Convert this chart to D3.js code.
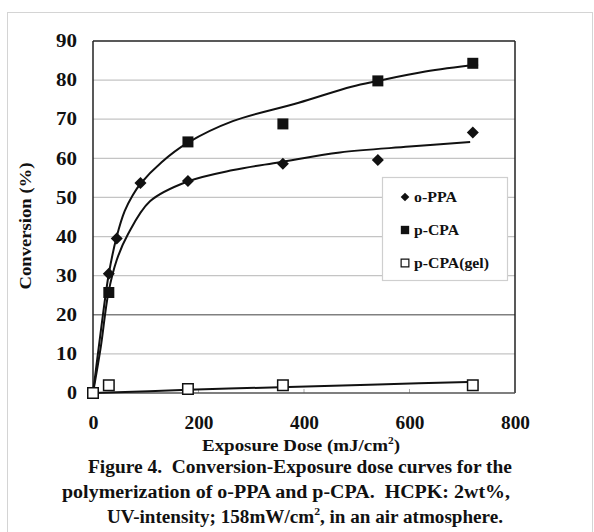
<!DOCTYPE html>
<html>
<head>
<meta charset="utf-8">
<script src="https://cdn.jsdelivr.net/npm/d3@7"></script>
<style>
  body { margin: 0; background: #fff; }
  text { font-family: "Liberation Serif", "Times New Roman", serif; font-weight: bold; fill: #111; white-space: pre; }
</style>
</head>
<body>
<svg id="chart" width="594" height="532"></svg>
<script>
// measured points
const oppaX = [0, 30, 45, 90, 180, 360, 540, 720];
const oppaY = [0, 30.5, 39.5, 53.7, 54.2, 58.6, 59.6, 66.6];
const pcpaX = [0, 30, 180, 360, 540, 720];
const pcpaY = [0, 25.7, 64.2, 68.8, 79.8, 84.3];
const gelX = [0, 30, 180, 360, 720];
const gelY = [0, 2.0, 1.0, 2.0, 2.0];

// trend curves
const upperFitX = [0, 15, 30, 45, 60, 75, 90, 130, 180, 265, 390, 490, 540, 630, 730];
const upperFitY = [0, 16, 30.5, 40, 46.5, 50.5, 53.5, 59, 64, 69.5, 74.2, 78.3, 79.8, 82.2, 84];
const lowerFitX = [0, 15, 29, 45, 66, 108, 178, 266, 354, 468, 600, 715];
const lowerFitY = [0, 12, 25.5, 34, 40.5, 49, 54, 57, 59, 61.5, 63, 64.2];
const gelFitX = [0, 180, 354, 540, 730];
const gelFitY = [0, 0.8, 1.5, 2.2, 2.9];

const xTicks = [0, 200, 400, 600, 800];
const yTicks = [0, 10, 20, 30, 40, 50, 60, 70, 80, 90];
const legendNames = ["o-PPA", "p-CPA", "p-CPA(gel)"];
const caption = [
  "Figure 4.  Conversion-Exposure dose curves for the",
  "polymerization of o-PPA and p-CPA.  HCPK: 2wt%,"
];

const svg = d3.select("#chart");
const L = 93, R = 515, T = 41, B = 393;

const x = d3.scaleLinear().domain([0, 800]).range([L, R]);
const y = d3.scaleLinear().domain([0, 90]).range([B, T]);

// outer frame
svg.append("rect").attr("x", 7.5).attr("y", 12.5).attr("width", 585).attr("height", 540)
  .attr("fill", "none").attr("stroke", "#d4d4d4").attr("stroke-width", 1);

// grid
svg.append("g").selectAll("line").data(yTicks.filter(d => d > 0 && d < 90)).enter().append("line")
  .attr("x1", L).attr("x2", R).attr("y1", d => y(d)).attr("y2", d => y(d))
  .attr("stroke", d => d === 20 ? "#808080" : "#c4c4c4")
  .attr("stroke-width", d => d === 20 ? 1.6 : 1.2);

// small inner x ticks
svg.append("g").selectAll("line").data(xTicks.slice(1, -1)).enter().append("line")
  .attr("x1", d => x(d)).attr("x2", d => x(d)).attr("y1", B).attr("y2", B - 4)
  .attr("stroke", "#aaa").attr("stroke-width", 1);

// frame of plot
svg.append("line").attr("x1", L).attr("x2", R).attr("y1", T).attr("y2", T).attr("stroke", "#222").attr("stroke-width", 1.5);
svg.append("line").attr("x1", R).attr("x2", R).attr("y1", T).attr("y2", B).attr("stroke", "#222").attr("stroke-width", 1.5);
svg.append("line").attr("x1", L).attr("x2", R).attr("y1", B).attr("y2", B).attr("stroke", "#555").attr("stroke-width", 1.5);
svg.append("line").attr("x1", L).attr("x2", L).attr("y1", T).attr("y2", B).attr("stroke", "#222").attr("stroke-width", 1.5);

// tick labels
const yAxis = d3.axisLeft(y).tickValues(yTicks).tickSize(0).tickPadding(16);
svg.append("g").attr("transform", `translate(${L},0)`).call(yAxis)
  .call(g => g.select(".domain").remove())
  .selectAll("text").attr("font-size", 18).attr("font-family", null).attr("fill", "#111")
  .attr("textLength", d => d === 0 ? 10 : 21).attr("lengthAdjust", "spacingAndGlyphs");

const xAxis = d3.axisBottom(x).tickValues(xTicks).tickSize(0).tickPadding(0);
svg.append("g").attr("transform", `translate(0,${B})`).call(xAxis)
  .call(g => g.select(".domain").remove())
  .selectAll("text").attr("font-size", 18).attr("font-family", null).attr("fill", "#111")
  .attr("dy", null).attr("y", 36)
  .attr("textLength", d => d === 0 ? 10 : 29).attr("lengthAdjust", "spacingAndGlyphs");

// curves
const line = d3.line().x(d => x(d[0])).y(d => y(d[1])).curve(d3.curveCatmullRom.alpha(0.5));
const fits = [[upperFitX, upperFitY], [lowerFitX, lowerFitY], [gelFitX, gelFitY]];
fits.forEach(([xs, ys]) => {
  svg.append("path").datum(xs.map((v, i) => [v, ys[i]]))
    .attr("d", line).attr("fill", "none").attr("stroke", "#111").attr("stroke-width", 2);
});

// markers
const diamond = d3.symbol().type(d3.symbolDiamond2).size(92);
const square = d3.symbol().type(d3.symbolSquare).size(121);
svg.append("g").selectAll("path").data(oppaX.map((v, i) => [v, oppaY[i]])).enter().append("path")
  .attr("d", diamond).attr("transform", d => `translate(${x(d[0])},${y(d[1])})`).attr("fill", "#111");
svg.append("g").selectAll("path").data(pcpaX.map((v, i) => [v, pcpaY[i]])).enter().append("path")
  .attr("d", square).attr("transform", d => `translate(${x(d[0])},${y(d[1])})`).attr("fill", "#111");
svg.append("g").selectAll("path").data(gelX.map((v, i) => [v, gelY[i]])).enter().append("path")
  .attr("d", d3.symbol().type(d3.symbolSquare).size(110))
  .attr("transform", d => `translate(${x(d[0])},${y(d[1])})`)
  .attr("fill", "#fff").attr("stroke", "#111").attr("stroke-width", 1.5);

// legend
const legendWidths = [43, 45, 75];
const lg = svg.append("g").attr("transform", "translate(382,177)");
lg.append("rect").attr("x", 0.5).attr("y", 0.5).attr("width", 125).attr("height", 103)
  .attr("fill", "#fff").attr("stroke", "#cfcfcf").attr("stroke-width", 1.2);
legendNames.forEach((name, i) => {
  const cy = 20 + i * 33;
  if (i === 0) lg.append("path").attr("d", d3.symbol().type(d3.symbolDiamond2).size(48)).attr("transform", `translate(23,${cy})`).attr("fill", "#111");
  if (i === 1) lg.append("path").attr("d", d3.symbol().type(d3.symbolSquare).size(70)).attr("transform", `translate(23,${cy})`).attr("fill", "#111");
  if (i === 2) lg.append("path").attr("d", d3.symbol().type(d3.symbolSquare).size(60)).attr("transform", `translate(23,${cy})`)
    .attr("fill", "#fff").attr("stroke", "#111").attr("stroke-width", 1.2);
  lg.append("text").attr("x", 32).attr("y", cy + 5).attr("font-size", 15)
    .attr("textLength", legendWidths[i]).attr("lengthAdjust", "spacingAndGlyphs").text(name);
});

// axis titles
svg.append("text").attr("transform", "translate(31,226) rotate(-90)").attr("text-anchor", "middle")
  .attr("font-size", 17).attr("textLength", 127).attr("lengthAdjust", "spacingAndGlyphs").text("Conversion (%)");

const xt = svg.append("text").attr("x", 301).attr("y", 451).attr("text-anchor", "middle").attr("font-size", 16.5)
  .attr("textLength", 198).attr("lengthAdjust", "spacingAndGlyphs");
xt.append("tspan").text("Exposure Dose (mJ/cm");
xt.append("tspan").attr("font-size", 10).attr("dy", -7).text("2");
xt.append("tspan").attr("dy", 7).text(")");

// caption
svg.append("text").attr("x", 300).attr("y", 473).attr("text-anchor", "middle").attr("font-size", 18)
  .attr("textLength", 424).attr("lengthAdjust", "spacingAndGlyphs").text(caption[0]);
svg.append("text").attr("x", 286).attr("y", 498).attr("text-anchor", "middle").attr("font-size", 18)
  .attr("textLength", 448).attr("lengthAdjust", "spacingAndGlyphs").text(caption[1]);
const c3 = svg.append("text").attr("x", 305).attr("y", 523).attr("text-anchor", "middle").attr("font-size", 18)
  .attr("textLength", 396).attr("lengthAdjust", "spacingAndGlyphs");
c3.append("tspan").text("UV-intensity; 158mW/cm");
c3.append("tspan").attr("font-size", 11).attr("dy", -8).text("2");
c3.append("tspan").attr("dy", 8).text(", in an air atmosphere.");
</script>
</body>
</html>
